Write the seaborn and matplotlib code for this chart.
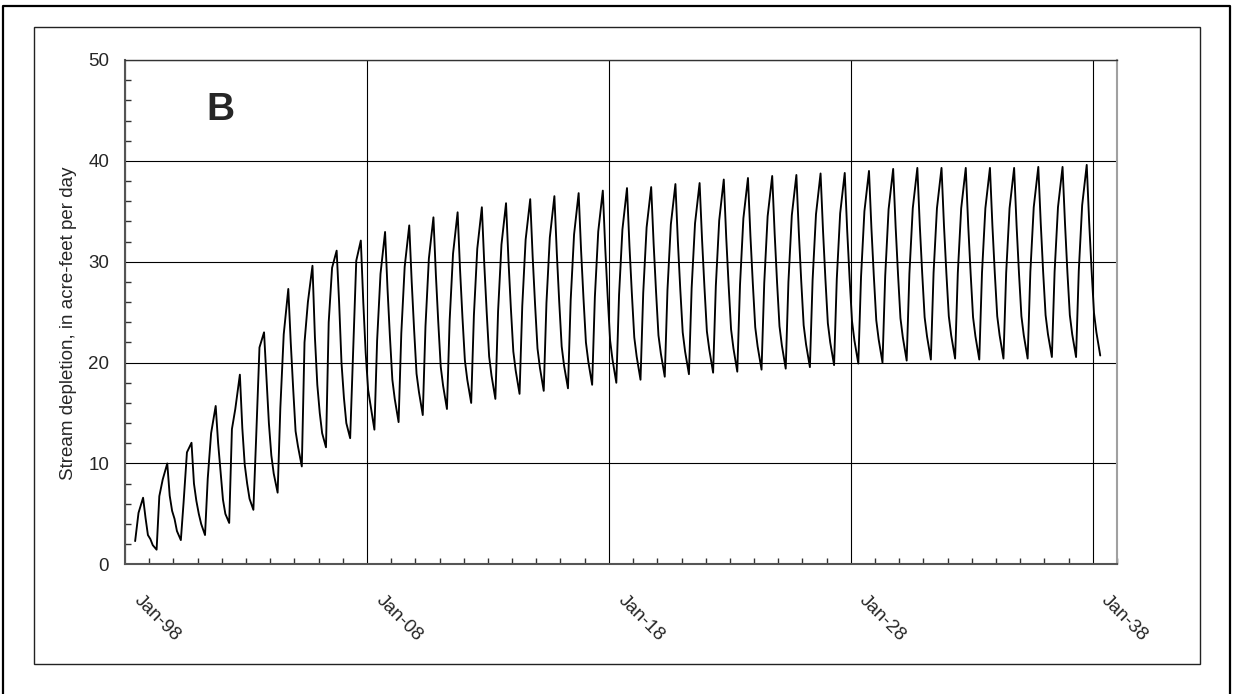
import numpy as np
import pandas as pd
import matplotlib
matplotlib.use('Agg')
import matplotlib.pyplot as plt
import matplotlib.dates as mdates
from matplotlib.transforms import ScaledTranslation
from matplotlib.lines import Line2D
from matplotlib.patches import Rectangle
import seaborn as sns

# model output: stream depletion, acre-feet per day, one row of values per pumping season
# (season low, two rising steps, peak, four falling steps)
first_year = 1998
last_year = 2037
season_dates = [(0, '04-23'), (0, '06-03'), (0, '07-24'), (0, '10-01'),
                (0, '11-07'), (0, '12-13'), (1, '01-19'), (1, '02-24')]
final_date = '2038-04-23'

dep_1998_2007 = [
    2.3, 5.1, 6.6, 4.6, 2.9, 2.5, 1.9,
    1.45, 6.75, 8.4, 10.0, 6.8, 5.3, 4.5, 3.3,
    2.4, 6.1, 11.1, 12.05, 8.0, 6.3, 5.0, 4.0,
    2.9, 8.5, 13.0, 15.7, 12.0, 9.2, 6.4, 5.0,
    4.1, 13.4, 15.4, 18.8, 13.5, 9.9, 8.0, 6.5,
    5.4, 12.4, 21.5, 23.0, 18.5, 14.0, 10.8, 9.0,
    7.1, 15.5, 22.8, 27.3, 22.0, 17.5, 13.2, 11.7,
    9.7, 22.0, 26.0, 29.6, 22.5, 17.8, 15.0, 13.0,
    11.6, 24.0, 29.4, 31.1, 26.0, 20.0, 16.5, 14.0,
    12.5, 20.3, 30.1, 32.1, 26.0, 21.0, 17.3, 15.8,
]
dep_2008_2017 = [
    13.35, 22.2, 28.8, 32.95, 27.3, 22.6, 18.3, 16.4,
    14.1, 22.9, 29.5, 33.6, 28.0, 23.3, 18.9, 17.1,
    14.8, 23.6, 30.3, 34.4, 28.7, 24.0, 19.6, 17.7,
    15.4, 24.2, 30.8, 34.9, 29.2, 24.5, 20.2, 18.3,
    16.0, 24.7, 31.3, 35.4, 29.7, 25.0, 20.6, 18.7,
    16.4, 25.1, 31.7, 35.8, 30.1, 25.4, 21.1, 19.2,
    16.9, 25.6, 32.2, 36.2, 30.5, 25.8, 21.4, 19.5,
    17.2, 25.9, 32.4, 36.5, 30.8, 26.0, 21.6, 19.7,
    17.45, 26.2, 32.7, 36.8, 31.1, 26.4, 22.0, 20.1,
    17.8, 26.5, 33.0, 37.05, 31.3, 26.6, 22.2, 20.3,
]
dep_2018_2027 = [
    18.0, 26.7, 33.2, 37.3, 31.6, 26.9, 22.5, 20.6,
    18.3, 26.9, 33.4, 37.4, 31.8, 27.1, 22.7, 20.9,
    18.6, 27.2, 33.7, 37.7, 32.0, 27.3, 23.0, 21.1,
    18.85, 27.4, 33.8, 37.8, 32.2, 27.5, 23.1, 21.3,
    19.0, 27.6, 34.1, 38.15, 32.4, 27.7, 23.3, 21.4,
    19.1, 27.7, 34.3, 38.3, 32.6, 27.9, 23.5, 21.6,
    19.3, 27.9, 34.5, 38.5, 32.8, 28.0, 23.6, 21.7,
    19.4, 28.0, 34.6, 38.6, 32.9, 28.1, 23.7, 21.8,
    19.55, 28.2, 34.7, 38.75, 33.1, 28.3, 23.9, 22.0,
    19.75, 28.3, 34.8, 38.8, 33.1, 28.4, 24.1, 22.2,
]
dep_2028_2038 = [
    19.9, 28.5, 35.0, 39.0, 33.3, 28.6, 24.2, 22.3,
    20.0, 28.6, 35.2, 39.2, 33.5, 28.8, 24.4, 22.5,
    20.2, 28.8, 35.3, 39.3, 33.6, 28.9, 24.5, 22.6,
    20.3, 28.9, 35.3, 39.3, 33.6, 28.9, 24.6, 22.7,
    20.4, 28.9, 35.3, 39.3, 33.6, 28.9, 24.5, 22.6,
    20.3, 28.9, 35.3, 39.3, 33.6, 28.9, 24.6, 22.7,
    20.4, 28.9, 35.3, 39.3, 33.6, 28.9, 24.6, 22.7,
    20.4, 29.0, 35.4, 39.4, 33.8, 29.0, 24.7, 22.8,
    20.55, 29.0, 35.4, 39.4, 33.8, 29.0, 24.7, 22.8,
    20.55, 29.1, 35.6, 39.6, 33.9, 29.2, 24.9, 23.0,
    20.7,
]

tick_years = [1998, 2008, 2018, 2028, 2038]
tick_labels = ['Jan-98', 'Jan-08', 'Jan-18', 'Jan-28', 'Jan-38']
y_ticks = [0, 10, 20, 30, 40, 50]
panel_letter = 'B'
y_label = 'Stream depletion, in acre-feet per day'

# build the series
dates = []
for yr in range(first_year, last_year + 1):
    for shift, md in season_dates:
        dates.append(pd.Timestamp(f'{yr + shift}-{md}'))
dates = dates[1:]  # record starts with the June 1998 value
dates.append(pd.Timestamp(final_date))
values = dep_1998_2007 + dep_2008_2017 + dep_2018_2027 + dep_2028_2038
df = pd.DataFrame({'date': dates, 'depletion': values})

sns.set_style('white')
plt.rcParams['font.family'] = ['Liberation Sans', 'DejaVu Sans']

fig = plt.figure(figsize=(12.33, 6.94), dpi=100)
ax = fig.add_axes([125/1233, 1 - 564.3/694, (1117 - 125)/1233, (564.3 - 60)/694])

sns.lineplot(data=df, x='date', y='depletion', ax=ax, color='black',
             lw=1.35, estimator=None, sort=False)

ax.set_xlim(pd.Timestamp('1998-01-01'), pd.Timestamp('2039-01-01'))
ax.set_ylim(0, 50)

# axes cosmetics
major_x = [mdates.date2num(pd.Timestamp(f'{y}-01-01')) for y in tick_years]
ax.set_xticks(major_x)
ax.set_xticklabels(tick_labels)
ax.xaxis.set_minor_locator(mdates.YearLocator(1))
ax.set_yticks(y_ticks)
ax.yaxis.set_minor_locator(matplotlib.ticker.MultipleLocator(2))

ax.grid(True, which='major', color='black', lw=0.8)
ax.set_axisbelow(True)

ax.tick_params(axis='x', which='major', direction='in', length=0, pad=19.5,
               labelsize=13.5, labelrotation=-45)
ax.tick_params(axis='x', which='minor', direction='in', length=4, width=1,
               color='#333333', bottom=True)
ax.tick_params(axis='y', which='major', direction='in', length=0, pad=11.5,
               labelsize=13.5)
ax.tick_params(axis='y', which='minor', direction='in', length=4.5, width=1,
               color='#333333', left=True)

for lab in ax.get_xticklabels():
    lab.set_ha('left')
    lab.set_va('top')
    lab.set_transform(lab.get_transform() + ScaledTranslation(0.055, 0, fig.dpi_scale_trans))

ax.set_xlabel('')
ax.set_ylabel(y_label, fontsize=13.5)
ax.yaxis.set_label_coords((77 - 125)/992, 0.478)

for side in ['left', 'bottom']:
    ax.spines[side].set_color('#555555')
    ax.spines[side].set_linewidth(1.5)
ax.spines['top'].set_color('#333333')
ax.spines['top'].set_linewidth(1.0)
ax.spines['right'].set_color('#a0a0a0')
ax.spines['right'].set_linewidth(1.5)

ax.text((206.7 - 125)/992, (564.3 - 120)/504.3, panel_letter, transform=ax.transAxes,
        fontsize=28, fontweight='bold', ha='left', va='baseline')

# chart frames
fig.add_artist(Rectangle((34.3/1233, 1 - 664/694), (1200 - 34.3)/1233, (664 - 26.7)/694,
                         transform=fig.transFigure, fill=False, ec='#222222', lw=1.0))
fx0, fx1, fy0 = 3.3/1233, 1230/1233, 1 - 5.7/694
fig.add_artist(Line2D([fx0, fx0, fx1, fx1], [0, fy0, fy0, 0],
                      transform=fig.transFigure, color='black', lw=1.6))

fig.savefig('out.png', dpi=100)
